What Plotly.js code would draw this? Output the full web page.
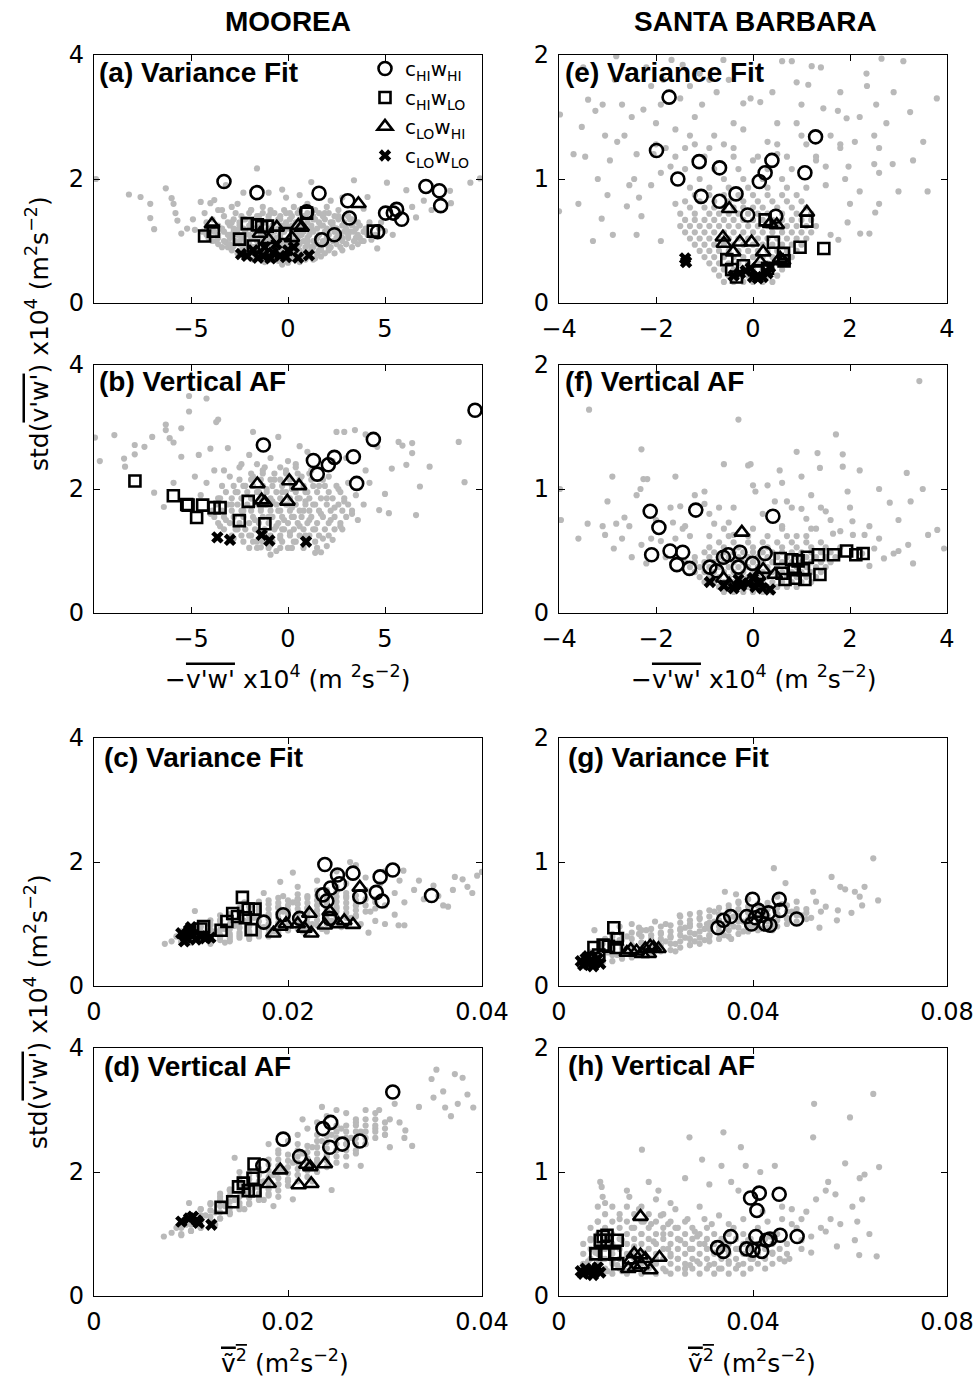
<!DOCTYPE html>
<html>
<head>
<meta charset="utf-8">
<script src="https://cdn.plot.ly/plotly-3.0.1.min.js"></script>
<style>html,body{margin:0;padding:0;background:#fff;}#chart{width:980px;height:1380px;}</style>
</head>
<body>
<div id="chart"></div>
<script>
// ---------------- DATA ----------------
// Panel (a) Moorea, Variance Fit: x = -v'w' x1e4, y = std(v'w') x1e4
const aGrayX = [-9.9,-7.6,-7.1,-7.1,-6.9,-6.3,-6.0,-5.9,-5.8,-5.7,-5.5,-5.2,-4.9,-4.8,-4.5,-4.3,-4.0,-3.8,-3.4,-2.9,-2.3,-1.6,-1.0,-0.3,-0.1,0.6,3.4,4.1,5.1,6.1,6.4,8.35,8.4,9.4,9.9,4.6,5.4,5.0,4.3,6.6,7.4,2.8,3.9,4.8,7.0,-8.2,-3.2,1.2,2.2,
-4.4,-4.1,-3.9,-3.7,-3.5,-3.3,-3.2,-3.0,-2.9,-2.8,-2.7,-2.6,-2.5,-2.4,-2.3,-2.2,-2.1,-2.0,-1.9,-1.9,-1.8,-1.7,-1.6,-1.5,-1.5,-1.4,-1.3,-1.2,-1.1,-1.0,-1.0,-0.9,-0.8,-0.7,-0.6,-0.5,-0.5,-0.4,-0.3,-0.2,-0.1,0.0,0.0,0.1,0.2,0.3,0.4,0.5,0.6,0.7,0.8,0.9,1.0,1.1,1.2,1.3,1.4,1.5,1.6,1.7,1.8,1.9,2.0,2.1,2.2,2.4,2.5,2.6,2.8,2.9,3.0,3.2,3.3,3.5,3.7,3.8,4.0,4.2,4.5,4.7,-1.3,0.3,1.0,-2.6,-0.3,0.6,-1.2,-3.6,-4.2,2.0,-0.8,0.2,1.4,-2.2,-3.1];
const aGrayY = [2.0,1.71,1.6,1.37,1.19,1.85,1.69,1.6,1.45,1.33,1.12,1.2,1.35,1.18,1.63,1.45,1.61,1.66,1.5,1.55,1.78,2.17,1.78,1.83,1.7,1.74,1.98,1.71,1.94,1.82,1.55,1.81,1.61,1.94,2.01,0.88,1.1,1.16,1.02,1.38,1.5,1.7,1.52,1.3,1.65,1.75,1.9,1.95,1.65,
1.15,1.05,1.35,1.0,1.2,1.4,0.98,1.1,1.3,0.92,1.45,1.18,1.0,0.85,1.35,1.1,0.95,1.25,0.8,1.5,1.05,0.9,1.2,0.72,1.4,1.0,0.82,1.3,1.1,0.7,0.95,1.45,1.2,0.85,1.05,0.68,1.35,0.95,1.15,0.78,1.25,0.65,1.0,1.45,0.85,1.15,0.7,1.3,0.95,1.1,0.8,1.4,1.0,0.75,1.2,0.9,1.35,1.05,0.85,1.25,0.95,1.45,1.1,0.9,1.3,1.0,1.2,1.4,1.05,1.25,0.95,1.15,1.35,1.05,1.25,1.0,1.15,1.3,1.1,1.2,1.55,1.55,1.6,1.6,0.62,0.66,0.66,1.5,1.3,1.55,0.75,0.72,0.72,0.78,0.9];
const aCoreRows = [
 [0.70,[-1.8,-1.3,-0.9,-0.4,0.1,0.5,0.9,1.3]],
 [0.75,[-2.2,-1.5,-1.0,-0.6,-0.2,0.3,0.7,1.1,1.7]],
 [0.80,[-2.6,-2.0,-1.6,-1.1,-0.6,-0.1,0.4,0.7,1.0,1.5,1.9,2.4]],
 [0.85,[-2.9,-2.3,-1.4,-0.9,-0.4,0.2,0.6,1.2,1.7,2.1,2.8]],
 [0.90,[-3.4,-2.9,-2.3,-1.8,-1.2,-0.8,-0.3,0.1,0.5,0.9,1.2,1.7,2.2,2.7,3.3]],
 [0.95,[-3.6,-3.0,-2.5,-2.0,-1.4,-1.0,-0.5,0.0,0.4,1.0,1.5,2.0,2.5,3.0,3.6]],
 [1.00,[-3.9,-3.3,-2.7,-2.2,-1.6,-1.1,-0.7,-0.2,0.3,0.8,1.3,1.8,2.3,2.8,3.4,3.9]],
 [1.05,[-3.6,-3.0,-2.4,-1.9,-1.3,-0.9,-0.4,0.1,0.5,1.0,1.5,2.0,2.5,3.1,3.7]],
 [1.10,[-4.2,-3.6,-3.1,-2.6,-2.0,-1.4,-0.9,-0.4,0.2,0.6,1.1,1.6,2.1,2.6,3.1,3.6,4.1]],
 [1.15,[-3.8,-3.3,-2.8,-2.2,-1.7,-1.2,-0.7,-0.2,0.4,0.8,1.3,1.9,2.4,2.9,3.4,3.9]],
 [1.20,[-3.9,-3.4,-2.8,-2.3,-1.7,-1.0,-0.5,0.0,0.5,0.9,1.5,2.0,2.5,3.0,3.5,4.0]],
 [1.25,[-3.6,-3.0,-2.5,-1.9,-1.4,-0.8,-0.3,0.2,0.7,1.2,1.8,2.3,2.8,3.3]],
 [1.30,[-3.1,-2.5,-1.9,-1.3,-0.7,-0.1,0.4,1.0,1.6,2.3,2.9,3.6]],
 [1.35,[-2.8,-2.2,-1.6,-1.0,-0.4,0.1,0.7,1.3,1.9,2.6,3.2]],
 [1.40,[-2.4,-1.6,-1.0,-0.4,0.2,0.8,1.3,1.8,2.4,3.1]],
 [1.45,[-2.0,-1.3,-0.7,-0.1,0.5,1.0,1.6,2.1]],
 [1.50,[-1.9,-0.9,-0.2,0.6,1.4,2.6]]
];
const aCircX = [-3.3,-1.6,1.6,3.08,3.16,2.39,1.74,4.62,5.03,5.6,5.43,5.86,7.11,7.8,7.87,0.96];
const aCircY = [1.96,1.78,1.77,1.65,1.37,1.10,1.02,1.15,1.45,1.51,1.45,1.35,1.88,1.81,1.57,1.47];
const aSqX = [-4.3,-3.85,-2.1,-2.5,-1.79,-1.58,-1.07,-1.36,-0.15,0.96,4.4];
const aSqY = [1.08,1.16,1.28,1.03,0.92,1.26,1.24,1.23,1.12,1.45,1.16];
const aTriX = [-3.92,-1.44,-0.58,0.53,0.7,3.63,-1.0,0.2];
const aTriY = [1.27,1.12,1.22,1.25,1.22,1.6,1.02,1.05];
const aXX = [-2.42,-2.11,-1.55,-1.29,-0.77,-0.41,-0.1,0.52,1.08,-1.2,-0.6,0.0,-1.8,0.3,-0.9];
const aXY = [0.79,0.76,0.73,0.76,0.81,0.76,0.74,0.73,0.77,0.9,0.95,0.85,0.85,0.9,0.72];

// Panel (b) Moorea, Vertical AF
const bGrayX = [-9.95,-9.7,-8.95,-8.45,-8.4,-7.9,-7.9,-7.4,-7.0,-6.9,-6.4,-6.3,-6.3,-6.1,-5.9,-5.5,-5.5,-5.1,-5.1,-4.6,-4.2,-3.7,-3.6,-4.0,-3.1,-2.4,-1.8,-0.5,0.0,0.6,2.5,2.9,3.45,4.0,4.6,5.35,5.7,5.9,6.1,6.4,6.4,6.8,6.6,7.3,5.2,8.8,9.1,5.0,4.7,2.3,1.7,2.0,1.4,-1.4,-0.9,-2.0,3.6,4.2,2.8,-4.8,-5.9,-3.3,
-4.5,-4.2,-4.0,-3.8,-3.6,-3.4,-3.2,-3.0,-2.9,-2.7,-2.6,-2.5,-2.3,-2.2,-2.0,-1.9,-1.8,-1.7,-1.6,-1.5,-1.4,-1.3,-1.2,-1.1,-1.0,-0.9,-0.8,-0.7,-0.6,-0.5,-0.4,-0.3,-0.2,-0.1,0.0,0.1,0.2,0.3,0.4,0.5,0.6,0.7,0.8,0.9,1.0,1.1,1.2,1.3,1.4,1.6,1.7,1.8,2.0,2.1,2.2,2.4,2.6,2.7,2.9,3.1,3.3,3.5,-1.6,0.4,-2.8,-3.5,1.5,0.0,-0.6,2.3,3.0,-0.9,-2.0,1.0,4.0,3.9,-1.2,0.2,-0.3,0.9];
const bGrayY = [2.83,2.45,2.87,2.49,2.36,2.71,2.56,2.68,2.84,1.94,1.71,2.95,3.04,2.82,2.75,2.98,2.52,3.5,3.25,2.55,3.46,3.08,3.12,2.65,2.66,2.4,2.92,2.84,2.45,2.69,2.92,2.92,2.95,2.88,2.68,2.33,2.76,2.7,2.39,2.74,2.58,2.04,1.58,2.36,1.61,2.76,2.11,1.92,1.66,1.18,0.98,1.08,0.97,1.06,0.94,1.05,1.5,2.1,1.35,2.2,2.1,2.3,
1.9,2.1,1.6,2.3,1.85,2.05,1.5,2.2,1.75,1.95,1.35,2.35,1.65,2.05,1.25,1.85,2.2,1.5,1.15,1.95,1.7,2.3,1.3,2.0,1.55,1.1,1.8,2.15,1.4,1.65,1.2,1.95,1.5,2.3,1.75,1.3,2.0,1.55,1.15,1.85,1.4,2.2,1.65,1.25,1.95,1.5,2.3,1.75,1.35,2.05,1.6,1.2,1.85,2.2,1.5,1.7,2.0,1.4,1.8,2.1,1.6,1.9,2.4,2.4,1.2,1.4,1.05,1.05,1.0,2.45,2.5,2.5,2.55,2.6,2.3,1.75,1.75,1.7,1.35,1.8];
const bCoreRows = [
 [1.05,[-1.6,-1.0,-0.4,0.2,0.8]],
 [1.15,[-2.3,-1.8,-1.3,-0.8,-0.3,0.3,0.9,1.4]],
 [1.25,[-2.9,-2.4,-1.9,-1.4,-0.9,-0.4,0.1,0.6,1.1,1.6,2.1]],
 [1.35,[-3.3,-2.7,-2.2,-1.7,-1.2,-0.7,-0.2,0.3,0.8,1.3,1.9,2.4]],
 [1.45,[-3.6,-3.0,-2.5,-2.0,-1.5,-1.0,-0.5,0.0,0.5,1.0,1.5,2.1,2.7]],
 [1.55,[-3.8,-3.3,-2.8,-2.3,-1.8,-1.3,-0.8,-0.3,0.2,0.7,1.2,1.8,2.4,3.0]],
 [1.65,[-3.9,-3.4,-2.9,-2.4,-1.9,-1.4,-0.9,-0.4,0.1,0.6,1.1,1.6,2.2,2.8,3.3]],
 [1.75,[-3.7,-3.1,-2.6,-2.1,-1.6,-1.1,-0.6,-0.1,0.4,0.9,1.4,2.0,2.6,3.1]],
 [1.85,[-3.5,-2.9,-2.4,-1.9,-1.4,-0.9,-0.4,0.1,0.6,1.1,1.7,2.3,2.9]],
 [1.95,[-3.2,-2.6,-2.1,-1.6,-1.1,-0.6,-0.1,0.4,0.9,1.5,2.1,2.7]],
 [2.05,[-2.8,-2.3,-1.8,-1.3,-0.8,-0.3,0.2,0.8,1.3,1.9,2.5]],
 [2.15,[-2.5,-1.9,-1.4,-0.9,-0.4,0.1,0.6,1.2,1.8]],
 [2.25,[-1.9,-1.3,-0.7,-0.1,0.5,1.1]],
 [2.35,[-1.2,-0.4,0.4]]
];
const bCircX = [-1.27,1.31,1.51,2.08,2.39,3.37,4.4,3.54,9.64];
const bCircY = [2.71,2.46,2.24,2.39,2.51,2.52,2.8,2.09,3.27];
const bSqX = [-7.89,-5.91,-5.22,-5.15,-4.4,-4.71,-3.81,-3.5,-2.51,-2.05,-1.19];
const bSqY = [2.13,1.89,1.75,1.74,1.74,1.54,1.7,1.7,1.49,1.8,1.44];
const bTriX = [-1.58,-1.36,-1.19,0.07,0.57,-0.03];
const bTriY = [2.08,1.82,1.78,2.13,2.05,1.8];
const bXX = [-3.64,-2.99,-1.36,-0.96,0.93];
const bXY = [1.22,1.18,1.26,1.17,1.15];

// Panel (c) Moorea, Variance Fit: x = mean wave variance (m^2 s^-2)
const cGrayX = [0.0073,0.008,0.0085,0.009,0.0095,0.010,0.010,0.0105,0.011,0.011,0.0115,0.012,0.012,0.0125,0.013,0.013,0.0135,0.014,0.014,0.0145,0.015,0.015,0.0155,0.016,0.016,0.0165,0.017,0.017,0.0175,0.018,0.018,0.0185,0.019,0.019,0.0195,0.020,0.020,0.0205,0.021,0.021,0.0215,0.022,0.022,0.0225,0.023,0.023,0.0235,0.024,0.024,0.0245,0.025,0.025,0.0255,0.026,0.026,0.0265,0.027,0.027,0.0275,0.028,0.028,0.0285,0.029,0.029,0.0295,0.030,0.030,0.031,0.031,0.0315,0.032,0.032,0.033,0.034,0.035,0.036,0.0365,0.037,0.038,0.0385,0.039,0.0395,0.040,0.0372,0.0355,0.0335,0.0205,0.0192,0.0264,0.0319,0.0104,0.0283,0.0314,0.0155,0.0175,0.012,0.014,0.016,0.018,0.022,0.024,0.0095,0.0135,0.025,0.027,0.030,0.021,0.0195];
const cGrayY = [0.68,0.72,0.8,0.7,0.76,0.72,0.88,0.8,0.74,0.95,0.84,0.76,1.0,0.88,0.78,1.05,0.92,0.8,1.12,0.97,0.82,1.2,1.05,0.85,1.3,1.1,0.84,1.22,0.95,1.38,1.12,0.88,1.28,1.0,1.45,0.9,1.15,1.35,1.05,1.6,0.88,1.25,1.45,1.0,1.7,1.15,0.92,1.35,1.55,1.05,1.85,1.25,0.95,1.45,1.65,1.1,1.95,1.3,1.0,1.55,1.75,1.2,1.4,1.05,1.65,1.3,1.85,1.5,1.15,1.7,1.35,0.98,1.55,1.4,1.62,1.3,1.28,1.55,1.72,1.6,1.5,1.78,1.84,1.76,1.45,1.7,1.83,1.68,2.0,1.86,1.21,0.86,0.98,1.35,1.5,0.68,0.72,0.76,0.8,0.85,0.88,0.92,0.7,1.0,1.12,1.0,1.4,1.2];
const cCoreCols = [
 [0.009,[0.72,0.80,0.88]],
 [0.010,[0.70,0.78,0.86,0.94]],
 [0.011,[0.72,0.80,0.88,0.96]],
 [0.012,[0.74,0.82,0.90,0.98,1.06]],
 [0.013,[0.74,0.82,0.90,0.98,1.06,1.14]],
 [0.014,[0.76,0.84,0.92,1.00,1.08,1.16]],
 [0.015,[0.78,0.86,0.94,1.02,1.10,1.18,1.26]],
 [0.016,[0.80,0.88,0.96,1.04,1.12,1.20,1.28]],
 [0.017,[0.80,0.88,0.96,1.04,1.12,1.20,1.28,1.36]],
 [0.018,[0.84,0.92,1.00,1.08,1.16,1.24,1.32]],
 [0.019,[0.86,0.94,1.02,1.10,1.18,1.26,1.34,1.42]],
 [0.020,[0.90,0.98,1.06,1.14,1.22,1.30,1.38]],
 [0.021,[0.92,1.00,1.08,1.16,1.24,1.32,1.40,1.48]],
 [0.022,[0.94,1.02,1.10,1.18,1.26,1.34,1.42]],
 [0.023,[0.98,1.06,1.14,1.22,1.30,1.38,1.46,1.54]],
 [0.024,[1.00,1.08,1.16,1.24,1.32,1.40,1.48]],
 [0.025,[1.04,1.12,1.20,1.28,1.36,1.44,1.52,1.60]],
 [0.026,[1.10,1.18,1.26,1.34,1.42,1.50]],
 [0.027,[1.14,1.22,1.30,1.38,1.46]],
 [0.028,[1.20,1.30,1.40]],
 [0.029,[1.25,1.35]]
];
const cCircX = [0.0238,0.0251,0.0267,0.0295,0.0308,0.0253,0.0244,0.0236,0.024,0.0274,0.0291,0.0297,0.0348,0.0195,0.0212,0.0175,0.0243];
const cCircY = [1.96,1.79,1.82,1.76,1.87,1.65,1.58,1.47,1.37,1.44,1.51,1.37,1.46,1.15,1.09,1.03,1.09];
const cSqX = [0.0153,0.0143,0.0159,0.0166,0.0156,0.0137,0.0131,0.0162,0.0113,0.011,0.0148];
const cSqY = [1.43,1.17,1.24,1.24,1.1,1.04,0.9,0.91,0.96,0.92,1.12];
const cTriX = [0.0185,0.0192,0.0198,0.021,0.0222,0.0224,0.0238,0.0243,0.0252,0.0258,0.0267,0.0274,0.0217];
const cTriY = [0.85,0.96,1.0,1.0,1.17,0.85,0.98,1.2,1.0,1.05,0.99,1.59,0.93];
const cXX = [0.009,0.0095,0.0098,0.0102,0.0105,0.011,0.0115,0.01,0.012,0.0093];
const cXY = [0.85,0.78,0.9,0.82,0.75,0.8,0.77,0.95,0.78,0.72];

// Panel (d) Moorea, Vertical AF
const dGrayX = [0.0072,0.008,0.0085,0.009,0.0095,0.010,0.010,0.0105,0.011,0.011,0.0115,0.012,0.012,0.0125,0.013,0.013,0.0135,0.014,0.014,0.0145,0.0145,0.015,0.015,0.0155,0.016,0.016,0.0165,0.017,0.017,0.0175,0.018,0.018,0.0185,0.0185,0.019,0.019,0.0195,0.020,0.020,0.0205,0.0205,0.021,0.021,0.0215,0.022,0.022,0.0225,0.023,0.023,0.0235,0.024,0.024,0.0245,0.0245,0.025,0.025,0.0255,0.026,0.026,0.0265,0.027,0.027,0.0275,0.028,0.028,0.029,0.029,0.0294,0.030,0.0305,0.031,0.0315,0.0321,0.0328,0.0335,0.0348,0.035,0.0353,0.0362,0.036,0.0372,0.038,0.0375,0.0385,0.0391,0.0368,0.0098,0.0125,0.0155,0.0175,0.019,0.0225,0.026,0.0235,0.0215,0.018,0.015,0.0275,0.0305,0.032];
const dGrayY = [0.96,1.02,1.1,0.98,1.15,1.05,1.3,1.2,1.1,1.4,1.3,1.2,1.5,1.35,1.25,1.6,1.45,1.35,1.7,1.55,2.23,1.45,1.85,1.65,1.5,1.95,1.75,1.6,2.05,1.85,1.65,2.2,1.45,1.95,1.8,2.35,2.05,1.85,2.5,1.56,2.15,1.95,2.6,2.3,2.05,2.7,2.4,2.15,2.8,2.5,2.25,2.9,1.71,2.6,2.35,3.0,2.7,2.45,2.95,2.55,2.8,2.3,2.65,3.0,2.45,2.7,2.95,3.0,2.6,2.85,3.1,2.8,2.67,2.42,3.05,3.5,3.2,3.65,3.04,3.3,3.58,3.52,3.1,3.25,3.04,2.9,1.5,1.15,1.4,1.55,1.6,1.85,2.1,3.05,2.85,2.45,2.0,2.1,2.4,2.55];
const dCoreCols = [
 [0.009,[1.00,1.10]],
 [0.010,[1.05,1.15,1.25]],
 [0.011,[1.10,1.20,1.30,1.40]],
 [0.012,[1.18,1.28,1.38,1.48]],
 [0.013,[1.25,1.35,1.45,1.55,1.65]],
 [0.014,[1.32,1.42,1.52,1.62,1.72]],
 [0.015,[1.40,1.50,1.60,1.70,1.80,1.90]],
 [0.016,[1.48,1.58,1.68,1.78,1.88,1.98]],
 [0.017,[1.55,1.65,1.75,1.85,1.95,2.05]],
 [0.018,[1.62,1.72,1.82,1.92,2.02,2.12]],
 [0.019,[1.70,1.80,1.90,2.00,2.10,2.20,2.30]],
 [0.020,[1.78,1.88,1.98,2.08,2.18,2.28]],
 [0.021,[1.85,1.95,2.05,2.15,2.25,2.35,2.45]],
 [0.022,[1.92,2.02,2.12,2.22,2.32,2.42]],
 [0.023,[2.00,2.10,2.20,2.30,2.40,2.50,2.60]],
 [0.024,[2.08,2.18,2.28,2.38,2.48,2.58]],
 [0.025,[2.15,2.25,2.35,2.45,2.55,2.65,2.75]],
 [0.026,[2.25,2.35,2.45,2.55,2.65,2.75]],
 [0.027,[2.35,2.45,2.55,2.65,2.75,2.85]],
 [0.028,[2.45,2.55,2.65,2.75,2.85]],
 [0.029,[2.55,2.65,2.75,2.85]],
 [0.030,[2.60,2.70,2.80]]
];
const dCircX = [0.0308,0.0244,0.0236,0.0195,0.0274,0.0256,0.0243,0.0212,0.0174];
const dCircY = [3.29,2.8,2.7,2.53,2.5,2.45,2.4,2.25,2.1];
const dSqX = [0.0165,0.0164,0.0154,0.0149,0.0159,0.0166,0.0143,0.0131];
const dSqY = [2.13,1.9,1.82,1.76,1.7,1.7,1.52,1.43];
const dTriX = [0.0192,0.0223,0.0238,0.0219,0.018,0.0211,0.0224];
const dTriY = [2.03,2.08,2.13,2.12,1.81,1.79,1.81];
const dXX = [0.009,0.0102,0.0106,0.0108,0.0121,0.0098];
const dXY = [1.2,1.28,1.22,1.18,1.15,1.25];

// Panel (e) Santa Barbara, Variance Fit
const eGrayX = [-3.98,-4.0,-3.6,-3.53,-3.46,-3.4,-3.25,-3.1,-3.05,-3.0,-3.12,-2.89,-2.85,-2.82,-2.8,-2.65,-2.6,-2.55,-2.45,-2.4,-2.35,-2.26,-2.1,-2.05,-1.85,-1.68,-1.45,-1.3,-1.05,-0.9,-0.75,-0.61,-0.4,-0.2,-0.05,0.15,0.8,0.9,1.14,1.21,1.45,1.75,1.93,2.34,2.35,2.54,2.65,2.5,2.6,1.8,1.5,1.97,2.5,2.88,2.6,3.24,3.51,3.79,2.52,2.21,2.4,1.95,1.76,-2.0,-1.6,-1.2,-0.8,0.5,0.3,1.0,1.6,-3.2,-2.95,2.1,2.75,-1.9,-1.4,3.0,2.2];
const eGrayY = [1.52,0.74,0.8,1.42,1.18,1.64,1.55,1.6,1.35,0.87,0.68,0.55,1.8,1.99,1.3,1.35,0.78,0.95,1.0,0.55,0.85,1.56,1.75,1.2,1.8,1.96,1.92,1.75,1.6,1.8,1.7,1.96,1.45,1.61,1.65,1.62,1.95,1.78,1.76,1.91,1.57,1.55,1.49,1.85,1.75,1.6,1.97,1.35,1.25,1.25,1.1,1.1,1.12,1.12,1.05,1.54,1.3,1.65,0.73,0.56,0.56,0.65,0.51,1.45,1.4,1.5,1.35,1.45,1.3,1.35,1.35,1.0,1.15,1.3,1.45,1.05,1.25,0.9,0.9];
const eHalo = [[-2.5,1.5],[-2.2,1.9],[-1.9,1.6],[-1.5,1.65],[-1.1,1.85],[-0.5,1.8],[0.4,1.7],[0.6,1.95],[1.0,1.6],[1.4,1.9],[1.8,1.7],[2.2,1.5],[2.9,1.7],[3.1,1.95],[-3.5,1.9],[-2.7,1.6],[-0.2,1.4],[0.9,1.45],[1.3,1.15],[-1.8,1.25],[2.6,0.8],[-2.3,0.7],[-1.9,0.5],[1.6,0.55],[2.0,0.8],[-2.1,0.95],[3.3,1.15],[3.6,0.9],[-3.7,1.2],[-3.3,0.5],[-1.7,1.1],[-1.3,1.35],[-0.9,1.25],[-0.4,1.25],[0.0,1.15],[0.5,1.2],[1.5,0.95],[1.9,1.0],[-2.4,1.2],[-1.6,0.8]];
const eCoreRows = [
 [0.17,[-0.6,-0.4,-0.2,0.0,0.2,0.4]],
 [0.22,[-0.7,-0.5,-0.3,-0.1,0.1,0.3,0.5]],
 [0.27,[-0.8,-0.6,-0.4,-0.2,0.0,0.2,0.4,0.6]],
 [0.32,[-0.9,-0.7,-0.5,-0.3,-0.1,0.1,0.3,0.5,0.7]],
 [0.37,[-1.0,-0.8,-0.6,-0.4,-0.2,0.0,0.2,0.4,0.6,0.8]],
 [0.42,[-1.1,-0.9,-0.7,-0.5,-0.3,-0.1,0.1,0.3,0.5,0.7,0.9]],
 [0.47,[-1.2,-1.0,-0.8,-0.6,-0.4,-0.2,0.0,0.2,0.4,0.6,0.8,1.0]],
 [0.52,[-1.3,-1.1,-0.9,-0.7,-0.5,-0.3,-0.1,0.1,0.3,0.5,0.7,0.9,1.1]],
 [0.57,[-1.4,-1.2,-1.0,-0.8,-0.6,-0.4,-0.2,0.0,0.2,0.4,0.6,0.8,1.0,1.2]],
 [0.62,[-1.5,-1.3,-1.1,-0.9,-0.7,-0.5,-0.3,-0.1,0.1,0.3,0.5,0.7,0.9,1.1,1.3]],
 [0.67,[-1.4,-1.2,-1.0,-0.8,-0.6,-0.4,-0.2,0.0,0.2,0.4,0.6,0.8,1.0,1.2]],
 [0.72,[-1.5,-1.2,-0.9,-0.7,-0.5,-0.3,-0.1,0.1,0.3,0.6,0.9,1.2]],
 [0.77,[-1.3,-1.0,-0.8,-0.6,-0.4,-0.2,0.0,0.2,0.5,0.8,1.1]],
 [0.82,[-1.4,-1.1,-0.8,-0.5,-0.2,0.1,0.4,0.7,1.0]],
 [0.87,[-1.2,-0.9,-0.6,-0.3,0.0,0.3,0.6,0.9]],
 [0.93,[-1.3,-0.9,-0.5,-0.1,0.3,0.7,1.1]],
 [1.00,[-1.1,-0.6,-0.2,0.2,0.6]],
 [1.08,[-1.4,-0.8,-0.3,0.3,0.8]],
 [1.18,[-1.6,-1.0,-0.4,0.1,0.7,1.3]],
 [1.28,[-2.0,-1.2,-0.6,0.5,1.1,1.8]]
];
const eCircX = [-1.73,-1.99,-1.55,-1.11,-0.69,-1.07,-0.69,-0.35,-0.11,0.13,0.25,0.39,0.47,1.07,1.29];
const eCircY = [1.66,1.23,1.0,1.14,1.09,0.86,0.82,0.88,0.71,0.98,1.05,1.15,0.7,1.05,1.34];
const eSqX = [0.25,1.11,0.97,1.46,0.42,-0.54,0.63,0.64,-0.44,-0.34,0.1,0.3,-0.2];
const eSqY = [0.67,0.66,0.45,0.44,0.49,0.35,0.4,0.34,0.27,0.21,0.25,0.28,0.3];
const eTriX = [-0.49,0.35,0.49,1.11,-0.62,-0.6,-0.27,-0.03,0.21,-0.41,0.56,0.62,0.15];
const eTriY = [0.76,0.64,0.63,0.73,0.53,0.48,0.49,0.49,0.41,0.41,0.36,0.34,0.33];
const eXX = [-1.4,-1.38,-0.27,0.0,0.2,-0.15,0.35,-0.4,0.1,0.3,-0.05];
const eXY = [0.36,0.33,0.24,0.21,0.21,0.26,0.29,0.22,0.2,0.24,0.28];

// Panel (f) Santa Barbara, Vertical AF
const fGrayX = [-3.38,-2.3,-2.26,-2.18,-2.32,-2.4,-2.65,-2.82,-2.55,-3.41,-3.1,-3.05,-2.87,-3.98,-3.96,-0.3,-0.1,-0.05,0.0,0.05,0.3,0.55,1.33,1.38,1.71,1.85,1.85,1.95,2.05,2.06,2.82,3.17,3.25,3.43,3.61,3.8,3.94,3.0,3.2,2.7,2.5,2.3,-1.0,-1.0,-1.5,-1.7,-1.65,-1.9,-2.1,-0.5,-0.4,0.8,1.0,1.1,1.3,1.4,1.5,1.65,1.8,-1.3,0.6,0.9,-0.8,-2.7,-1.45,1.2,0.45,-0.7,2.25,2.9];
const fGrayY = [1.64,1.32,1.08,1.08,1.0,0.95,0.77,0.72,0.7,0.72,0.7,0.63,0.52,1.0,0.75,1.56,1.19,1.2,1.03,0.98,1.03,1.15,1.29,1.17,1.44,1.28,1.18,0.98,0.74,0.63,0.89,1.13,0.9,1.87,0.63,0.67,0.52,0.5,0.55,0.44,0.52,0.63,0.98,0.88,0.86,0.85,0.73,0.58,0.6,0.73,0.63,0.85,0.84,0.76,0.68,0.85,0.82,0.64,0.66,0.62,0.7,0.62,0.72,0.6,0.68,0.95,0.9,0.85,0.48,0.48];
const fHalo = [[-1.8,0.45],[-1.6,0.6],[-2.2,0.4],[-2.5,0.45],[-1.4,0.7],[-0.9,0.8],[-0.4,0.85],[0.2,0.8],[0.7,0.9],[1.6,0.75],[2.0,0.85],[2.4,0.7],[2.6,0.6],[2.4,0.38],[-2.0,0.75],[-1.2,0.95],[0.6,1.05],[1.0,1.1],[2.6,1.0],[3.0,0.75],[-3.0,0.9],[-2.9,1.1],[-1.6,1.1],[-0.6,1.2],[0.9,1.3],[2.2,1.15],[3.5,1.0],[3.3,0.4],[-2.3,0.55],[-3.6,0.6]];
const fCoreRows = [
 [0.17,[-0.6,-0.4,-0.2,0.0,0.2,0.4]],
 [0.21,[-0.7,-0.5,-0.3,-0.1,0.1,0.3,0.5,0.7,0.9]],
 [0.25,[-1.0,-0.8,-0.6,-0.4,-0.2,0.0,0.2,0.4,0.6,0.8,1.0,1.2]],
 [0.29,[-1.1,-0.9,-0.7,-0.5,-0.3,-0.1,0.1,0.3,0.5,0.7,0.9,1.1,1.3]],
 [0.33,[-1.2,-1.0,-0.8,-0.6,-0.4,-0.2,0.0,0.2,0.4,0.6,0.8,1.0,1.2,1.4]],
 [0.37,[-1.3,-1.1,-0.9,-0.7,-0.5,-0.3,-0.1,0.1,0.3,0.5,0.7,0.9,1.1,1.3,1.5]],
 [0.41,[-1.4,-1.2,-1.0,-0.8,-0.6,-0.4,-0.2,0.0,0.2,0.4,0.6,0.8,1.0,1.2,1.4,1.6]],
 [0.45,[-1.2,-0.9,-0.7,-0.5,-0.3,-0.1,0.1,0.3,0.5,0.7,0.9,1.1,1.3,1.5,1.7]],
 [0.49,[-1.0,-0.8,-0.6,-0.4,-0.2,0.0,0.2,0.4,0.6,0.8,1.0,1.2,1.4,1.6]],
 [0.53,[-0.9,-0.6,-0.3,0.0,0.3,0.6,0.9,1.2,1.5,1.8]],
 [0.57,[-0.7,-0.4,-0.1,0.2,0.5,0.8,1.1,1.4]],
 [0.62,[-0.9,-0.5,-0.1,0.3,0.7,1.1]],
 [0.68,[-0.6,0.0,0.6,1.2]]
];
const fCircX = [-2.12,-1.94,-1.18,0.41,-2.09,-1.71,-1.45,-1.57,-1.31,-0.89,-0.61,-0.51,-0.27,-0.3,-0.01,0.25,-0.75];
const fCircY = [0.82,0.69,0.83,0.78,0.47,0.5,0.49,0.39,0.36,0.37,0.45,0.47,0.49,0.37,0.4,0.48,0.34];
const fSqX = [0.56,0.8,0.93,1.12,1.35,1.66,1.93,2.12,2.27,1.38,1.07,0.87,1.04,0.85,0.66,0.6];
const fSqY = [0.44,0.43,0.42,0.45,0.47,0.47,0.5,0.47,0.48,0.31,0.27,0.28,0.35,0.35,0.27,0.32];
const fTriX = [-0.23,-0.61,-0.49,0.21,0.45,-0.05,0.1];
const fTriY = [0.65,0.28,0.23,0.35,0.31,0.26,0.3];
const fXX = [-0.89,-0.4,-0.25,-0.1,0.05,0.2,0.35,-0.6,0.0,0.15,-0.3];
const fXY = [0.25,0.2,0.22,0.24,0.21,0.2,0.19,0.22,0.28,0.25,0.27];

// Panel (g) Santa Barbara, Variance Fit
const gGrayX = [0.0045,0.005,0.006,0.0065,0.007,0.0073,0.008,0.0085,0.009,0.0095,0.010,0.011,0.011,0.012,0.0125,0.013,0.014,0.014,0.015,0.015,0.016,0.0165,0.017,0.018,0.018,0.019,0.0198,0.020,0.021,0.022,0.022,0.023,0.024,0.0249,0.025,0.026,0.027,0.028,0.028,0.029,0.030,0.031,0.032,0.032,0.033,0.034,0.0342,0.035,0.036,0.036,0.037,0.038,0.039,0.040,0.041,0.042,0.043,0.044,0.0443,0.045,0.046,0.0467,0.047,0.048,0.049,0.050,0.051,0.052,0.0524,0.0537,0.054,0.055,0.0562,0.0573,0.058,0.059,0.0603,0.061,0.062,0.0625,0.063,0.0648,0.0658,0.0165,0.0125,0.024,0.027,0.030,0.034,0.038,0.0415,0.0365,0.045,0.0195,0.021,0.026,0.0305,0.039,0.053,0.0575,0.0355,0.044];
const gGrayY = [0.16,0.22,0.18,0.27,0.2,0.45,0.25,0.32,0.22,0.38,0.27,0.33,0.42,0.25,0.37,0.3,0.4,0.26,0.5,0.33,0.28,0.42,0.35,0.3,0.45,0.38,0.52,0.32,0.42,0.36,0.5,0.4,0.34,0.57,0.45,0.39,0.5,0.42,0.36,0.55,0.46,0.4,0.52,0.6,0.44,0.5,0.76,0.62,0.48,0.56,0.68,0.52,0.6,0.47,0.66,0.55,0.62,0.5,0.95,0.58,0.66,0.83,0.54,0.6,0.68,0.57,0.62,0.55,0.76,0.47,0.6,0.64,0.88,0.53,0.8,0.78,0.59,0.76,0.72,0.65,0.8,1.03,0.69,0.47,0.48,0.28,0.33,0.37,0.41,0.44,0.46,0.74,0.72,0.27,0.3,0.47,0.5,0.7,0.68,0.61,0.38,0.45];
const gCoreCols = [
 [0.005,[0.16,0.21]],
 [0.007,[0.18,0.23,0.28]],
 [0.009,[0.19,0.24,0.29,0.34]],
 [0.011,[0.20,0.25,0.30,0.35,0.40]],
 [0.013,[0.22,0.27,0.32,0.37,0.42]],
 [0.015,[0.23,0.28,0.33,0.38,0.43]],
 [0.017,[0.25,0.30,0.35,0.40,0.45]],
 [0.019,[0.26,0.31,0.36,0.41,0.46]],
 [0.021,[0.28,0.33,0.38,0.43,0.48]],
 [0.023,[0.29,0.34,0.39,0.44,0.49]],
 [0.025,[0.31,0.36,0.41,0.46,0.51,0.56]],
 [0.027,[0.33,0.38,0.43,0.48,0.53,0.58]],
 [0.029,[0.34,0.39,0.44,0.49,0.54,0.59]],
 [0.031,[0.36,0.41,0.46,0.51,0.56,0.61]],
 [0.033,[0.38,0.43,0.48,0.53,0.58,0.63]],
 [0.035,[0.40,0.45,0.50,0.55,0.60,0.65]],
 [0.037,[0.42,0.47,0.52,0.57,0.62,0.67]],
 [0.039,[0.44,0.49,0.54,0.59,0.64]],
 [0.041,[0.45,0.50,0.55,0.60,0.65]],
 [0.043,[0.47,0.52,0.57,0.62,0.67]],
 [0.045,[0.48,0.53,0.58,0.63]],
 [0.047,[0.50,0.55,0.60,0.65]],
 [0.049,[0.52,0.57,0.62]],
 [0.051,[0.54,0.59]]
];
const gCircX = [0.0399,0.0454,0.0456,0.0432,0.0411,0.0387,0.0405,0.0397,0.0425,0.049,0.0354,0.0339,0.0328,0.0418,0.0435];
const gCircY = [0.7,0.7,0.61,0.59,0.61,0.56,0.55,0.5,0.5,0.54,0.56,0.53,0.47,0.57,0.49];
const gSqX = [0.0113,0.012,0.0072,0.0091,0.0102,0.0118,0.0082,0.0065];
const gSqY = [0.47,0.38,0.31,0.33,0.32,0.31,0.25,0.22];
const gTriX = [0.0205,0.0188,0.0178,0.016,0.0148,0.014,0.0171,0.0185,0.0195];
const gTriY = [0.3,0.32,0.3,0.28,0.29,0.27,0.26,0.26,0.31];
const gXX = [0.0045,0.005,0.0055,0.006,0.0065,0.007,0.0075,0.008,0.0085,0.006];
const gXY = [0.2,0.17,0.22,0.18,0.2,0.16,0.19,0.22,0.18,0.24];

// Panel (h) Santa Barbara, Vertical AF
const hGrayX = [0.005,0.006,0.0065,0.007,0.0075,0.008,0.0085,0.0088,0.009,0.0095,0.010,0.0105,0.011,0.012,0.0125,0.013,0.0135,0.014,0.0145,0.015,0.0155,0.016,0.0165,0.017,0.0171,0.0175,0.018,0.0185,0.019,0.0195,0.020,0.0205,0.021,0.0215,0.022,0.0225,0.023,0.024,0.0245,0.025,0.026,0.0265,0.027,0.0269,0.028,0.0285,0.029,0.0295,0.030,0.031,0.0315,0.032,0.033,0.0335,0.0339,0.034,0.035,0.0355,0.036,0.037,0.0375,0.038,0.0385,0.039,0.040,0.041,0.0415,0.042,0.043,0.044,0.0445,0.045,0.046,0.0465,0.047,0.048,0.049,0.050,0.051,0.0524,0.0526,0.052,0.053,0.054,0.055,0.056,0.057,0.058,0.0573,0.0555,0.060,0.0605,0.061,0.0615,0.0619,0.062,0.0625,0.063,0.064,0.0648,0.066,0.0655,0.059,0.0475,0.0435,0.027,0.033,0.037,0.013,0.009,0.011,0.015,0.019,0.023,0.008,0.0175,0.0225,0.0285,0.0345];
const hGrayY = [0.2,0.28,0.45,0.22,0.35,0.6,0.92,0.88,0.3,0.75,0.2,0.5,0.38,0.25,0.62,0.45,0.3,0.2,0.8,0.55,0.4,0.27,0.7,0.5,1.18,0.35,0.22,0.92,0.58,0.44,0.3,0.85,0.65,0.5,0.2,0.38,0.75,0.55,0.3,0.45,0.22,0.62,0.38,1.28,0.52,0.28,0.72,1.1,0.42,0.25,0.58,0.35,0.65,1.05,1.32,0.45,0.28,0.92,0.55,0.38,1.2,0.62,1.05,0.45,0.3,0.55,1.0,0.42,0.6,0.35,1.05,0.5,0.62,0.28,0.42,0.7,0.55,0.38,0.68,1.28,1.55,0.48,0.78,0.55,0.85,0.62,0.82,0.58,0.4,0.92,1.44,0.72,0.45,0.6,0.33,0.95,0.78,0.98,0.5,1.63,1.04,0.32,1.07,0.3,0.48,0.25,0.22,0.25,0.2,0.18,0.28,0.35,0.25,0.32,0.38,0.6,0.58,0.48,0.38];
const hHalo = [[0.009,0.8],[0.014,0.85],[0.02,0.78],[0.024,0.7],[0.03,0.62],[0.035,0.58],[0.048,0.58],[0.05,0.45],[0.052,0.35],[0.055,0.52],[0.05,0.62],[0.046,0.72],[0.042,0.68],[0.031,0.9],[0.026,0.95],[0.037,0.85]];
const hCoreRows = [
 [0.18,[0.005,0.008,0.011,0.014,0.017,0.020,0.023,0.026,0.029,0.032,0.035,0.038]],
 [0.22,[0.0065,0.0095,0.0125,0.0155,0.0185,0.0215,0.0245,0.0275,0.0305,0.0335,0.0365,0.0395,0.0425]],
 [0.26,[0.005,0.008,0.011,0.014,0.017,0.020,0.023,0.026,0.029,0.032,0.035,0.038,0.041,0.044]],
 [0.30,[0.0065,0.0095,0.0125,0.0155,0.0185,0.0215,0.0245,0.0275,0.0305,0.0335,0.0365,0.0395,0.0425,0.0455]],
 [0.34,[0.005,0.008,0.011,0.014,0.017,0.020,0.023,0.026,0.029,0.032,0.035,0.038,0.041,0.044,0.047]],
 [0.38,[0.0065,0.0095,0.0125,0.0155,0.0185,0.0215,0.0245,0.0275,0.0305,0.0335,0.0365,0.0395,0.0425,0.0455]],
 [0.42,[0.005,0.008,0.011,0.014,0.017,0.020,0.023,0.026,0.029,0.032,0.035,0.038,0.041,0.044]],
 [0.46,[0.0065,0.0095,0.0125,0.0155,0.0185,0.0215,0.0245,0.0275,0.0305,0.0335,0.0365,0.0395,0.0425]],
 [0.50,[0.008,0.011,0.014,0.017,0.020,0.023,0.026,0.029,0.032,0.035,0.038]],
 [0.55,[0.0065,0.0095,0.0125,0.0155,0.0185,0.0215,0.0245,0.0275,0.0305]],
 [0.60,[0.008,0.011,0.014,0.017,0.020,0.023,0.026]],
 [0.66,[0.0095,0.0125,0.0155,0.0185,0.0215]],
 [0.72,[0.008,0.011,0.014,0.017]]
];
const hCircX = [0.0413,0.0395,0.0454,0.0408,0.0354,0.0327,0.0339,0.0387,0.04,0.0418,0.0406,0.0428,0.0435,0.0456,0.0491];
const hCircY = [0.83,0.79,0.82,0.69,0.48,0.39,0.36,0.38,0.37,0.36,0.48,0.45,0.46,0.49,0.48];
const hSqX = [0.0091,0.0099,0.012,0.0076,0.0094,0.0115,0.0121,0.0085,0.0099];
const hSqY = [0.48,0.49,0.45,0.34,0.34,0.34,0.26,0.45,0.45];
const hTriX = [0.0168,0.0207,0.0155,0.0143,0.0157,0.017,0.0188,0.0178,0.0168,0.0148];
const hTriY = [0.64,0.31,0.34,0.22,0.23,0.25,0.21,0.3,0.33,0.29];
const hXX = [0.0045,0.005,0.0055,0.006,0.0065,0.007,0.0075,0.008,0.0085];
const hXY = [0.2,0.18,0.22,0.19,0.21,0.17,0.2,0.23,0.19];

const groupNames = ['c<sub>HI</sub>w<sub>HI</sub>','c<sub>HI</sub>w<sub>LO</sub>','c<sub>LO</sub>w<sub>HI</sub>','c<sub>LO</sub>w<sub>LO</sub>'];
const panelLabels = ['(a) Variance Fit','(b) Vertical AF','(c) Variance Fit','(d) Vertical AF','(e) Variance Fit','(f) Vertical AF','(g) Variance Fit','(h) Vertical AF'];
const colTitles = ['MOOREA','SANTA BARBARA'];
const xTicksFluxLeft = [-5,0,5];
const xTicksFluxRight = [-4,-2,0,2,4];
const xTicksVarLeft = [0,0.02,0.04];
const xTickTextVarLeft = ['0','0.02','0.04'];
const xTicksVarRight = [0,0.04,0.08];
const xTickTextVarRight = ['0','0.04','0.08'];
const yTicksLeft = [0,2,4];
const yTicksRight = [0,1,2];

// ---------------- BUILD ----------------
const FONT = '"Liberation Sans", Arial, Helvetica, sans-serif';
const TFONT = '"DejaVu Sans", Verdana, sans-serif';
const W = 980, H = 1380;
const colPx = [[94,482],[559,947]];
const rowPx = [[55,303],[365,613],[738,986],[1048,1296]];

function grayOf(bx, by, rows, cols, pairs) {
  const X = bx.slice(), Y = by.slice();
  (rows||[]).forEach(r => r[1].forEach(x => { X.push(x); Y.push(r[0]); }));
  (cols||[]).forEach(c => c[1].forEach(y => { X.push(c[0]); Y.push(y); }));
  (pairs||[]).forEach(p => { X.push(p[0]); Y.push(p[1]); });
  return [X, Y];
}

const panels = [
  {id:'',  col:0,row:0, g:grayOf(aGrayX,aGrayY,aCoreRows), c:[aCircX,aCircY], s:[aSqX,aSqY], t:[aTriX,aTriY], x:[aXX,aXY]},
  {id:'2', col:0,row:1, g:grayOf(bGrayX,bGrayY,bCoreRows), c:[bCircX,bCircY], s:[bSqX,bSqY], t:[bTriX,bTriY], x:[bXX,bXY]},
  {id:'3', col:0,row:2, g:grayOf(cGrayX,cGrayY,null,cCoreCols), c:[cCircX,cCircY], s:[cSqX,cSqY], t:[cTriX,cTriY], x:[cXX,cXY]},
  {id:'4', col:0,row:3, g:grayOf(dGrayX,dGrayY,null,dCoreCols), c:[dCircX,dCircY], s:[dSqX,dSqY], t:[dTriX,dTriY], x:[dXX,dXY]},
  {id:'5', col:1,row:0, g:grayOf(eGrayX,eGrayY,eCoreRows,null,eHalo), c:[eCircX,eCircY], s:[eSqX,eSqY], t:[eTriX,eTriY], x:[eXX,eXY]},
  {id:'6', col:1,row:1, g:grayOf(fGrayX,fGrayY,fCoreRows,null,fHalo), c:[fCircX,fCircY], s:[fSqX,fSqY], t:[fTriX,fTriY], x:[fXX,fXY]},
  {id:'7', col:1,row:2, g:grayOf(gGrayX,gGrayY,null,gCoreCols), c:[gCircX,gCircY], s:[gSqX,gSqY], t:[gTriX,gTriY], x:[gXX,gXY]},
  {id:'8', col:1,row:3, g:grayOf(hGrayX,hGrayY,hCoreRows,null,hHalo), c:[hCircX,hCircY], s:[hSqX,hSqY], t:[hTriX,hTriY], x:[hXX,hXY]}
];

const markerDefs = [
  {key:'c', symbol:'circle-open', size:13, lw:2.6},
  {key:'s', symbol:'square-open', size:11, lw:2.6},
  {key:'t', symbol:'triangle-up-open', size:13, lw:2.6},
  {key:'x', symbol:'x', size:11, lw:0}
];

const traces = [];
const layout = {
  width:W, height:H, margin:{l:0,r:0,t:0,b:0},
  paper_bgcolor:'#ffffff', plot_bgcolor:'#ffffff',
  font:{family:FONT, color:'#000', size:20},
  showlegend:true,
  legend:{x:365/W, y:1-49/H, xanchor:'left', yanchor:'top', bgcolor:'rgba(0,0,0,0)', borderwidth:0,
          font:{size:20, family:TFONT, color:'#000'}, tracegroupgap:0, itemwidth:30},
  annotations:[]
};

panels.forEach((p, i) => {
  const xa = 'x'+p.id, ya = 'y'+p.id;
  traces.push({type:'scatter', mode:'markers', x:p.g[0], y:p.g[1], xaxis:xa, yaxis:ya,
    marker:{color:'#b9b9b9', size:6.2}, showlegend:false, hoverinfo:'skip'});
  markerDefs.forEach((m, k) => {
    const d = p[m.key];
    traces.push({type:'scatter', mode:'markers', x:d[0], y:d[1], xaxis:xa, yaxis:ya,
      name:groupNames[k], showlegend:(i===0),
      marker:{symbol:m.symbol, size:m.size, color:'#000', line:{width:m.lw, color:'#000'}}});
  });
  const left = p.col===0, varRow = p.row>=2;
  let xr, xt, xtt = null;
  if (!varRow) { xr = left?[-10,10]:[-4,4]; xt = left?xTicksFluxLeft:xTicksFluxRight; }
  else { xr = left?[0,0.04]:[0,0.08]; xt = left?xTicksVarLeft:xTicksVarRight; xtt = left?xTickTextVarLeft:xTickTextVarRight; }
  const yr = left?[0,4]:[0,2];
  const common = {ticks:'inside', ticklen:6, tickwidth:1, tickcolor:'#000', showline:true, linecolor:'#000', linewidth:1.2,
    mirror:'ticks', showgrid:false, zeroline:false, tickfont:{size:24, family:TFONT, color:'#000'}, fixedrange:true, automargin:false};
  const xd = [colPx[p.col][0]/W, colPx[p.col][1]/W];
  const yd = [1-rowPx[p.row][1]/H, 1-rowPx[p.row][0]/H];
  const xaxis = Object.assign({}, common, {domain:xd, range:xr, tickvals:xt, anchor:ya, ticklabelstandoff:4});
  if (xtt) xaxis.ticktext = xtt;
  const yaxis = Object.assign({}, common, {domain:yd, range:yr, tickvals:left?yTicksLeft:yTicksRight, anchor:xa, ticklabelstandoff:4});
  layout['xaxis'+p.id] = xaxis;
  layout['yaxis'+p.id] = yaxis;
  const labPos = [[97,73],[97,381],[102,757],[102,1066],[563,73],[563,381],[566,757],[566,1065]][i];
  layout.annotations.push({xref:'paper', yref:'paper', x:labPos[0]/W, y:1-labPos[1]/H, xanchor:'left', yanchor:'middle',
    text:'<b>'+panelLabels[i]+'</b>', showarrow:false, font:{size:28, family:FONT, color:'#000'}});
});

layout.annotations.push({xref:'paper', yref:'paper', x:288/W, y:1-22/H, xanchor:'center', yanchor:'middle',
  text:'<b>'+colTitles[0]+'</b>', showarrow:false, font:{size:28, family:FONT}});
layout.annotations.push({xref:'paper', yref:'paper', x:755/W, y:1-22/H, xanchor:'center', yanchor:'middle',
  text:'<b>'+colTitles[1]+'</b>', showarrow:false, font:{size:28, family:FONT}});

const OL = '<span style="text-decoration:overline">';
const yTitle = 'std(' + OL + "v'w'</span>) x10<sup>4</sup> (m<sup>2</sup>s<sup>\u22122</sup>)";
const xTitleFlux = '\u2212' + OL + "v'w'</span> x10<sup>4</sup> (m <sup>2</sup>s<sup>\u22122</sup>)";
const xTitleVar = OL + '\u1E7D<sup>2</sup></span> (m<sup>2</sup>s<sup>\u22122</sup>)';

[[37,334],[37,1012]].forEach(pt => layout.annotations.push({xref:'paper', yref:'paper', x:pt[0]/W, y:1-pt[1]/H,
  xanchor:'center', yanchor:'middle', textangle:-90, text:yTitle, showarrow:false, font:{size:25, family:TFONT}}));
[[287,677],[753,677]].forEach(pt => layout.annotations.push({xref:'paper', yref:'paper', x:pt[0]/W, y:1-pt[1]/H,
  xanchor:'center', yanchor:'middle', text:xTitleFlux, showarrow:false, font:{size:25, family:TFONT}}));
[[285,1361],[752,1361]].forEach(pt => layout.annotations.push({xref:'paper', yref:'paper', x:pt[0]/W, y:1-pt[1]/H,
  xanchor:'center', yanchor:'middle', text:xTitleVar, showarrow:false, font:{size:25, family:TFONT}}));

Plotly.newPlot('chart', traces, layout, {staticPlot:true, displayModeBar:false});
</script>
</body>
</html>
